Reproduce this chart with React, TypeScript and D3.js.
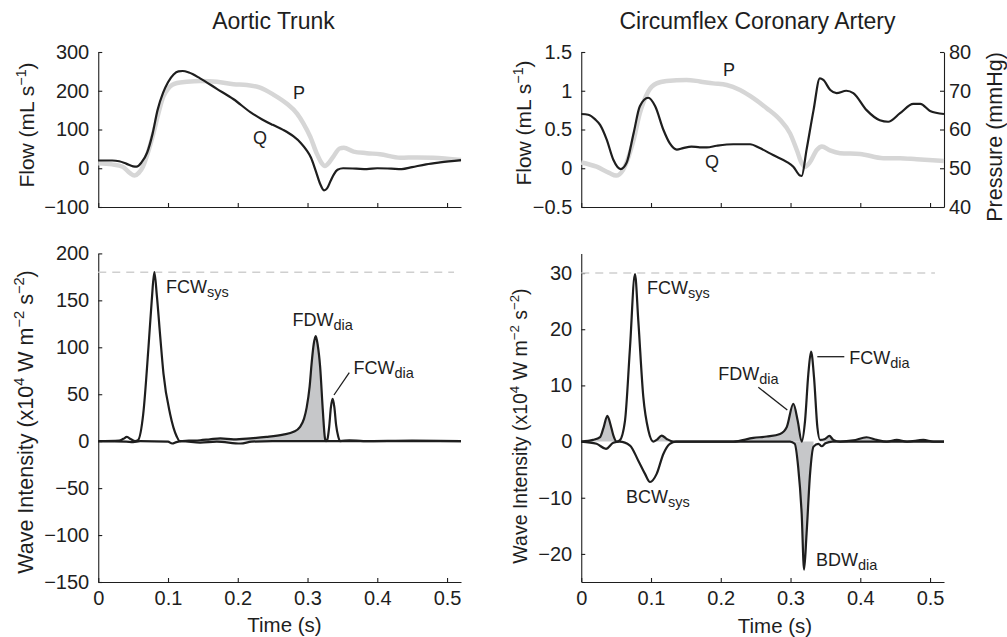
import React, { useEffect, useRef } from "react";
import * as d3 from "d3";

type Pt = [number, number];

// ---------- categories / ticks ----------
const timeTicks = [0, 0.1, 0.2, 0.3, 0.4, 0.5];
const aortaFlowTicks = [-100, 0, 100, 200, 300];
const coronaryFlowTicks = [-0.5, 0, 0.5, 1, 1.5];
const pressureTicks = [40, 50, 60, 70, 80];
const aortaWiTicks = [-150, -100, -50, 0, 50, 100, 150, 200];
const coronaryWiTicks = [-20, -10, 0, 10, 20, 30];

// ---------- Aortic trunk: flow (Q) and pressure (P, drawn on flow axis) ----------
const aortaQ: Pt[] = [
  [0, 20], [0.02, 20], [0.03, 18], [0.04, 12], [0.05, 5], [0.055, 4], [0.062, 15], [0.07, 40],
  [0.078, 90], [0.085, 150], [0.093, 195], [0.1, 222], [0.108, 242], [0.115, 250], [0.121, 251],
  [0.13, 247], [0.146, 232], [0.17, 205], [0.194, 178], [0.218, 145], [0.235, 126], [0.25, 112],
  [0.265, 99], [0.28, 82], [0.29, 66], [0.298, 48], [0.305, 27], [0.312, -8], [0.318, -40],
  [0.3236, -57], [0.328, -52], [0.333, -33], [0.338, -15], [0.343, -4], [0.351, 0], [0.37, -1],
  [0.385, -2], [0.4, 0], [0.42, -1], [0.435, -2], [0.45, 3], [0.47, 10], [0.49, 15], [0.52, 21],
];
const aortaP: Pt[] = [
  [0, 13], [0.02, 10], [0.035, 4], [0.045, -12], [0.052, -19], [0.058, -12], [0.064, 4], [0.072, 45],
  [0.079, 90], [0.086, 140], [0.093, 184], [0.1, 205], [0.106, 215], [0.113, 220], [0.127, 223],
  [0.146, 225], [0.17, 223], [0.194, 217], [0.213, 215], [0.232, 208], [0.251, 190], [0.27, 167],
  [0.285, 141], [0.294, 116], [0.304, 81], [0.313, 39], [0.32, 14], [0.325, 6], [0.331, 15],
  [0.337, 30], [0.346, 51], [0.352, 53], [0.366, 43], [0.385, 39], [0.404, 36], [0.433, 27],
  [0.457, 28], [0.48, 27], [0.52, 21],
];

// ---------- Circumflex coronary: flow (Q, mL/s) and pressure (P, mmHg) ----------
const coronaryQ: Pt[] = [
  [0, 0.7], [0.01, 0.69], [0.02, 0.63], [0.027, 0.56], [0.0365, 0.37], [0.046, 0.11], [0.0566, -0.01],
  [0.065, 0.07], [0.075, 0.45], [0.084, 0.8], [0.096, 0.91], [0.106, 0.8], [0.118, 0.49], [0.127, 0.32],
  [0.137, 0.24], [0.146, 0.26], [0.158, 0.28], [0.17, 0.27], [0.18, 0.27], [0.194, 0.29], [0.218, 0.31],
  [0.242, 0.31], [0.256, 0.26], [0.275, 0.17], [0.295, 0.08], [0.304, 0.02], [0.3136, -0.095],
  [0.316, -0.1], [0.323, 0.24], [0.333, 0.75], [0.342, 1.16], [0.347, 1.14], [0.357, 1.01],
  [0.366, 0.97], [0.38, 1.0], [0.39, 0.97], [0.409, 0.75], [0.428, 0.62], [0.44, 0.6], [0.457, 0.71],
  [0.476, 0.83], [0.486, 0.83], [0.5, 0.74], [0.52, 0.7],
];
const coronaryP: Pt[] = [
  [0, 51.5], [0.022, 50.4], [0.04, 48.8], [0.05, 48.1], [0.06, 49.6], [0.075, 57.3], [0.084, 64.2],
  [0.096, 69.8], [0.108, 71.9], [0.1225, 72.5], [0.151, 72.8], [0.17, 72.4], [0.189, 71.9],
  [0.2085, 71.5], [0.2276, 70.2], [0.2467, 68.1], [0.2658, 65.5], [0.285, 62.5], [0.2993, 59.0],
  [0.309, 54.7], [0.316, 51.3], [0.3208, 50.4], [0.3283, 51.7], [0.3376, 54.7], [0.345, 55.6],
  [0.3565, 54.6], [0.371, 53.9], [0.3996, 53.7], [0.433, 52.6], [0.457, 52.6], [0.481, 52.3],
  [0.52, 51.9],
];

// ---------- Wave intensity (x10^4 W m^-2 s^-2) ----------
const aortaForward: Pt[] = [
  [0, 0], [0.03, 0.5], [0.036, 2.5], [0.041, 4.5], [0.047, 2], [0.0528, 0], [0.057, 1], [0.0645, 29],
  [0.072, 100], [0.0767, 150], [0.0804, 180], [0.084, 155], [0.089, 110], [0.0935, 72], [0.103, 29],
  [0.1125, 5], [0.117, 0], [0.13, 0.5], [0.146, 1], [0.16, 2], [0.175, 3], [0.194, 2], [0.218, 3],
  [0.241, 4.5], [0.265, 7], [0.28, 10], [0.289, 15], [0.295, 24], [0.2988, 36], [0.303, 58],
  [0.306, 84], [0.309, 104], [0.3118, 112], [0.3145, 103], [0.3181, 79], [0.3219, 33], [0.325, 3],
  [0.3265, 0], [0.3285, 2], [0.331, 15], [0.3335, 36], [0.336, 45], [0.3385, 36], [0.341, 17],
  [0.344, 5], [0.3467, 0], [0.36, 1], [0.38, 0], [0.45, 0.5], [0.52, 0],
];
const aortaBackward: Pt[] = [
  [0, 0], [0.04, -0.5], [0.05, -1], [0.06, 0], [0.1, -0.5], [0.106, -2.5], [0.112, -1], [0.12, 0],
  [0.146, -1.5], [0.17, -0.5], [0.204, -2.5], [0.22, -0.5], [0.25, 0], [0.52, 0],
];
const coronaryForward: Pt[] = [
  [0, 0], [0.017, 0.3], [0.027, 0.8], [0.032, 2.5], [0.0374, 4.6], [0.042, 3], [0.046, 1.1],
  [0.0506, 0], [0.055, 0.2], [0.0627, 3.7], [0.0699, 16.8], [0.077, 29.8], [0.0818, 21.5],
  [0.089, 7.9], [0.0962, 2], [0.1033, 0], [0.108, 0.3], [0.1153, 1.07], [0.1225, 0.47], [0.132, 0],
  [0.218, 0], [0.2467, 0.65], [0.266, 0.9], [0.285, 1.36], [0.2945, 2.55], [0.304, 6.7],
  [0.3103, 3.7], [0.316, 0], [0.3208, 3.7], [0.3255, 12], [0.3294, 16], [0.3337, 11.4],
  [0.3385, 2.55], [0.3423, 0.3], [0.3495, 0.47], [0.3557, 1.0], [0.3614, 0.3], [0.371, 0],
  [0.39, 0.2], [0.409, 0.77], [0.4235, 0.3], [0.438, 0], [0.4523, 0.3], [0.467, 0], [0.4904, 0.3],
  [0.505, 0], [0.52, 0],
];
const coronaryBackward: Pt[] = [
  [0, 0], [0.022, -0.4], [0.0355, -1.3], [0.046, -0.2], [0.055, 0], [0.0699, -0.7], [0.0818, -3.4],
  [0.0914, -5.75], [0.0986, -7.2], [0.1081, -5.75], [0.1177, -2.2], [0.127, -0.4], [0.136, 0],
  [0.2993, 0], [0.306, -0.4], [0.311, -4.6], [0.316, -12.9], [0.3194, -22.8], [0.323, -16.4],
  [0.328, -5.75], [0.333, -0.9], [0.34, -0.4], [0.3447, -0.83], [0.35, -0.3], [0.36, 0], [0.52, 0],
];

// shaded (decompression) intervals, in seconds
const aortaForwardShade: Pt[] = [[0.117, 0.3265]];
const coronaryForwardShade: Pt[] = [[0, 0.0506], [0.1033, 0.132], [0.218, 0.316], [0.3423, 0.52]];
const coronaryBackwardShade: Pt[] = [[0.2993, 0.333]];

const aortaPeakRef = 180;
const coronaryPeakRef = 30;

const FONT = "'Liberation Sans', Arial, Helvetica, sans-serif";
const INK = "#1e1e1e";

const fmt = (d: d3.NumberValue) => {
  const v = +d;
  return v < 0 ? "\u2212" + Math.abs(v) : String(v);
};

export default function App() {
  const ref = useRef<SVGSVGElement>(null);

  useEffect(() => {
    const svg = d3.select(ref.current!);
    svg.selectAll("*").remove();

    const xL = d3.scaleLinear().domain([0, 0.52]).range([98.25, 461]);
    const xR = d3.scaleLinear().domain([0, 0.52]).range([581.25, 944]);
    const yTopL = d3.scaleLinear().domain([-100, 300]).range([207, 52]);
    const yTopR = d3.scaleLinear().domain([-0.5, 1.5]).range([207, 52]);
    const yPres = d3.scaleLinear().domain([40, 80]).range([207, 52]);
    const yBotL = d3.scaleLinear().domain([-150, 200]).range([582, 253.4]);
    const yBotR = d3.scaleLinear().domain([-25, 33.5]).range([582, 253.4]);

    const styleAxis = (g: d3.Selection<SVGGElement, unknown, null, undefined>, size = 20) => {
      g.attr("font-family", FONT).attr("font-size", size);
      g.select(".domain").attr("stroke", INK).attr("stroke-width", 1.1);
      g.selectAll(".tick line").attr("stroke", INK).attr("stroke-width", 1.1);
      g.selectAll(".tick text").attr("fill", INK);
    };

    const axisGroup = () => svg.append("g") as d3.Selection<SVGGElement, unknown, null, undefined>;

    const mkLine = (x: d3.ScaleLinear<number, number>, y: d3.ScaleLinear<number, number>) =>
      d3.line<Pt>().x((d) => x(d[0])).y((d) => y(d[1])).curve(d3.curveMonotoneX);
    const mkArea = (x: d3.ScaleLinear<number, number>, y: d3.ScaleLinear<number, number>) =>
      d3.area<Pt>().x((d) => x(d[0])).y0(y(0)).y1((d) => y(d[1])).curve(d3.curveMonotoneX);

    // ---------- titles ----------
    const title = (x: number, t: string) =>
      svg.append("text").attr("x", x).attr("y", 28.5).attr("text-anchor", "middle")
        .attr("font-family", FONT).attr("font-size", 23).attr("fill", INK).text(t);
    title(273.5, "Aortic Trunk");
    title(757.5, "Circumflex Coronary Artery");

    // ---------- rotated labels ----------
    const vLabel = (x: number, y: number, size: number, parts: [string, boolean][]) => {
      const t = svg.append("text").attr("transform", `translate(${x},${y}) rotate(-90)`)
        .attr("text-anchor", "middle").attr("font-family", FONT).attr("font-size", size).attr("fill", INK);
      parts.forEach(([s, sup]) => {
        if (sup) {
          t.append("tspan").attr("dy", -size * 0.4).attr("font-size", size * 0.68).text(s);
        } else {
          const ts = t.append("tspan").text(s);
          if (t.selectAll("tspan").size() > 1) ts.attr("dy", size * 0.4);
        }
      });
    };
    const flowLabel: [string, boolean][] = [["Flow (mL s", false], ["\u22121", true], [")", false]];
    const wiLabel: [string, boolean][] = [
      ["Wave Intensity (x10", false], ["4", true], [" W m", false], ["\u22122", true],
      [" s", false], ["\u22122", true], [")", false],
    ];
    vLabel(34, 125, 21, flowLabel);
    vLabel(531, 123, 21, flowLabel);
    vLabel(1002, 137, 21.5, [["Pressure (mmHg)", false]]);
    vLabel(33, 422, 21.5, wiLabel);
    vLabel(527, 426, 19.5, wiLabel);

    const LW = 2.2;

    // ---------- top-left panel ----------
    {
      const gx = axisGroup().attr("transform", `translate(0,207)`)
        .call(d3.axisBottom(xL).tickValues(timeTicks).tickSizeInner(-4).tickSizeOuter(0).tickFormat(() => ""));
      styleAxis(gx);
      const gy = axisGroup().attr("transform", `translate(98.25,0)`)
        .call(d3.axisLeft(yTopL).tickValues(aortaFlowTicks).tickSizeInner(-4).tickSizeOuter(0).tickPadding(9).tickFormat(fmt));
      styleAxis(gy);
      svg.append("path").datum(aortaP).attr("d", mkLine(xL, yTopL)).attr("fill", "none")
        .attr("stroke", "#d6d6d6").attr("stroke-width", 4.5).attr("stroke-linejoin", "round");
      svg.append("path").datum(aortaQ).attr("d", mkLine(xL, yTopL)).attr("fill", "none")
        .attr("stroke", INK).attr("stroke-width", LW);
      svg.append("text").attr("x", 293).attr("y", 99).attr("font-family", FONT).attr("font-size", 18).attr("fill", INK).text("P");
      svg.append("text").attr("x", 253).attr("y", 144).attr("font-family", FONT).attr("font-size", 18).attr("fill", INK).text("Q");
    }

    // ---------- top-right panel ----------
    {
      const gx = axisGroup().attr("transform", `translate(0,207)`)
        .call(d3.axisBottom(xR).tickValues(timeTicks).tickSizeInner(-4).tickSizeOuter(0).tickFormat(() => ""));
      styleAxis(gx);
      const gy = axisGroup().attr("transform", `translate(581.25,0)`)
        .call(d3.axisLeft(yTopR).tickValues(coronaryFlowTicks).tickSizeInner(-4).tickSizeOuter(0).tickPadding(9).tickFormat(fmt));
      styleAxis(gy);
      const gp = axisGroup().attr("transform", `translate(944,0)`)
        .call(d3.axisRight(yPres).tickValues(pressureTicks).tickSizeInner(-4).tickSizeOuter(0).tickPadding(5).tickFormat(fmt));
      styleAxis(gp);
      svg.append("path").datum(coronaryP).attr("d", mkLine(xR, yPres)).attr("fill", "none")
        .attr("stroke", "#d6d6d6").attr("stroke-width", 4.5).attr("stroke-linejoin", "round");
      svg.append("path").datum(coronaryQ).attr("d", mkLine(xR, yTopR)).attr("fill", "none")
        .attr("stroke", INK).attr("stroke-width", LW);
      svg.append("text").attr("x", 723).attr("y", 76).attr("font-family", FONT).attr("font-size", 18).attr("fill", INK).text("P");
      svg.append("text").attr("x", 705).attr("y", 168).attr("font-family", FONT).attr("font-size", 18).attr("fill", INK).text("Q");
    }

    const waveLabel = (x: number, y: number, main: string, sub: string) => {
      const t = svg.append("text").attr("x", x).attr("y", y).attr("font-family", FONT)
        .attr("font-size", 18).attr("fill", INK);
      t.append("tspan").text(main);
      t.append("tspan").attr("dy", 4).attr("font-size", 14.5).text(sub);
    };
    const leader = (x1: number, y1: number, x2: number, y2: number) =>
      svg.append("line").attr("x1", x1).attr("y1", y1).attr("x2", x2).attr("y2", y2)
        .attr("stroke", INK).attr("stroke-width", 1.3);

    const shade = (
      data: Pt[], ranges: Pt[],
      x: d3.ScaleLinear<number, number>, y: d3.ScaleLinear<number, number>,
    ) => {
      ranges.forEach(([a, b]) => {
        const seg = data.filter((d) => d[0] >= a - 1e-9 && d[0] <= b + 1e-9);
        svg.append("path").datum(seg).attr("d", mkArea(x, y)).attr("fill", "#c6c7c9").attr("stroke", "none");
      });
    };

    // ---------- bottom-left panel ----------
    {
      const gx = axisGroup().attr("transform", `translate(0,582)`)
        .call(d3.axisBottom(xL).tickValues(timeTicks).tickSizeInner(-4).tickSizeOuter(0).tickPadding(9).tickFormat(fmt));
      styleAxis(gx);
      const gy = axisGroup().attr("transform", `translate(98.25,0)`)
        .call(d3.axisLeft(yBotL).tickValues(aortaWiTicks).tickSizeInner(-4).tickSizeOuter(0).tickPadding(9).tickFormat(fmt));
      styleAxis(gy);
      svg.append("line").attr("x1", xL(0)).attr("x2", xL(0.51)).attr("y1", yBotL(aortaPeakRef)).attr("y2", yBotL(aortaPeakRef))
        .attr("stroke", "#cfcfcf").attr("stroke-width", 1.6).attr("stroke-dasharray", "8,6");
      shade(aortaForward, aortaForwardShade, xL, yBotL);
      svg.append("path").datum(aortaBackward).attr("d", mkLine(xL, yBotL)).attr("fill", "none")
        .attr("stroke", INK).attr("stroke-width", LW);
      svg.append("path").datum(aortaForward).attr("d", mkLine(xL, yBotL)).attr("fill", "none")
        .attr("stroke", INK).attr("stroke-width", LW);
      svg.append("text").attr("x", 284.5).attr("y", 632).attr("text-anchor", "middle")
        .attr("font-family", FONT).attr("font-size", 20.5).attr("fill", INK).text("Time (s)");
      waveLabel(166, 293, "FCW", "sys");
      waveLabel(292.5, 326, "FDW", "dia");
      waveLabel(353.5, 374, "FCW", "dia");
      leader(349.3, 372.7, 334, 395);
    }

    // ---------- bottom-right panel ----------
    {
      const gx = axisGroup().attr("transform", `translate(0,582)`)
        .call(d3.axisBottom(xR).tickValues(timeTicks).tickSizeInner(-4).tickSizeOuter(0).tickPadding(9).tickFormat(fmt));
      styleAxis(gx);
      const gy = axisGroup().attr("transform", `translate(581.25,0)`)
        .call(d3.axisLeft(yBotR).tickValues(coronaryWiTicks).tickSizeInner(-4).tickSizeOuter(0).tickPadding(9).tickFormat(fmt));
      styleAxis(gy);
      svg.append("line").attr("x1", xR(0)).attr("x2", xR(0.507)).attr("y1", yBotR(coronaryPeakRef)).attr("y2", yBotR(coronaryPeakRef))
        .attr("stroke", "#cfcfcf").attr("stroke-width", 1.6).attr("stroke-dasharray", "8,6");
      shade(coronaryForward, coronaryForwardShade, xR, yBotR);
      shade(coronaryBackward, coronaryBackwardShade, xR, yBotR);
      svg.append("path").datum(coronaryBackward).attr("d", mkLine(xR, yBotR)).attr("fill", "none")
        .attr("stroke", INK).attr("stroke-width", LW);
      svg.append("path").datum(coronaryForward).attr("d", mkLine(xR, yBotR)).attr("fill", "none")
        .attr("stroke", INK).attr("stroke-width", LW);
      svg.append("text").attr("x", 775).attr("y", 633).attr("text-anchor", "middle")
        .attr("font-family", FONT).attr("font-size", 20.5).attr("fill", INK).text("Time (s)");
      waveLabel(647, 294, "FCW", "sys");
      waveLabel(718.3, 380, "FDW", "dia");
      leader(758.3, 387.3, 787.3, 410);
      waveLabel(849.3, 364, "FCW", "dia");
      leader(817.3, 356.7, 844.3, 356.7);
      waveLabel(626, 502.7, "BCW", "sys");
      waveLabel(816, 566, "BDW", "dia");
    }
  }, []);

  return (
    <svg
      ref={ref}
      width={1007}
      height={637}
      style={{ position: "absolute", left: 0, top: 0, background: "#fff" }}
    />
  );
}
